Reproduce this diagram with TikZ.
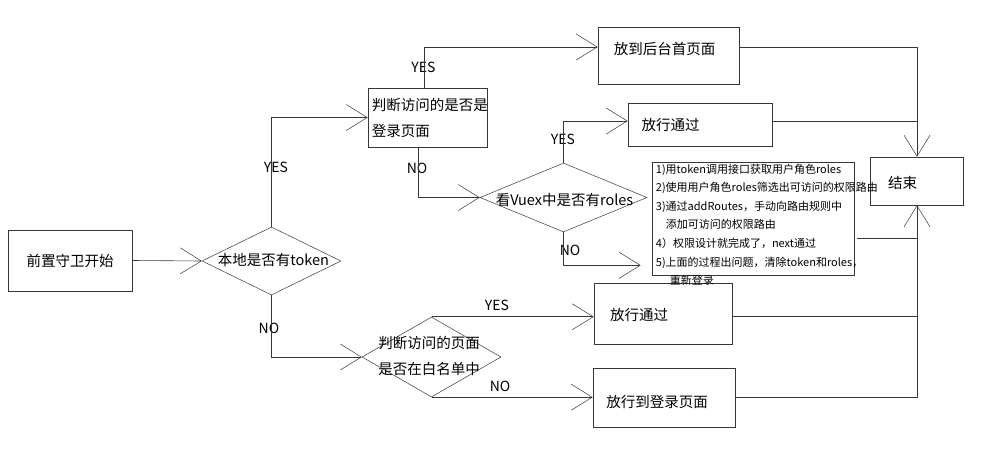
\documentclass[tikz,border=0pt]{standalone}
\usepackage{fontspec}
\setmainfont{Noto Sans CJK SC}
\usetikzlibrary{positioning,shapes.geometric,arrows.meta}
\definecolor{flowline}{RGB}{55,55,55}

\begin{document}
\begin{tikzpicture}[x=1pt, y=-1pt,
  box/.style={draw=flowline, line width=0.6pt, inner sep=0pt},
  decide/.style={diamond, draw=flowline, line width=0.5pt, inner sep=0pt},
  word/.style={font=\fontsize{14.5}{26}\selectfont, align=left, inner sep=0pt},
  note/.style={font=\fontsize{11}{18.6}\selectfont, align=left, inner sep=0pt},
  tag/.style={font=\fontsize{14}{16}\selectfont, inner sep=0pt},
  flow/.style={draw=flowline, line width=0.6pt},
  arr/.style={flow, -{Straight Barb[length=21pt, width=26pt, line width=0.5pt]}}
]
  \useasboundingbox (0,0) rectangle (992,468);

  % boxes
  \node[box, minimum width=124, minimum height=61, label={[word]center:前置守卫开始}] (start) at (70,260.5) {};
  \node[box, minimum width=119, minimum height=59, label={[word, anchor=west, xshift=4pt]west:判断访问的是否是\\登录页面}] (login) at (427.5,117.5) {};
  \node[box, minimum width=141, minimum height=57, label={[word, xshift=-4pt, yshift=6.5pt]center:放到后台首页面}] (home) at (668.5,55.5) {};
  \node[box, minimum width=144, minimum height=43, label={[word, xshift=-29.5pt]center:放行通过}] (pass1) at (700,124.5) {};
  \node[box, minimum width=202, minimum height=113] (info) at (753,218.5) {};
  \node[box, minimum width=93, minimum height=48, label={[word, xshift=-14.5pt, yshift=-2pt]center:结束}] (end) at (917,181) {};
  \node[box, minimum width=138, minimum height=61, label={[word, xshift=-24pt, yshift=-1.5pt]center:放行通过}] (pass2) at (663,313.5) {};
  \node[box, minimum width=142, minimum height=59, label={[word, xshift=-7pt, yshift=-4.5pt]center:放行到登录页面}] (tologin) at (664,397.5) {};

  % decisions
  \node[decide, minimum width=139, minimum height=68, label={[word, xshift=2pt, yshift=1pt]center:本地是否有token}] (tok) at (271.5,261) {};
  \node[decide, minimum width=167, minimum height=69, label={[word, xshift=1pt, yshift=-3pt]center:看Vuex中是否有roles}] (vuex) at (563.5,197.5) {};
  \node[decide, minimum width=139, minimum height=80, label={[word, xshift=-2.5pt, yshift=1.5pt]center:判断访问的页面\\是否在白名单中}] (white) at (431.5,357) {};

  \node[note, anchor=north west] (infotext) at ([xshift=4pt, yshift=-2pt]info.north west)
    {1)用token调用接口获取用户角色roles\\
     2)使用用户角色roles筛选出可访问的权限路由\\
     3)通过addRoutes，手动向路由规则中\\
     \hspace*{10pt}添加可访问的权限路由\\
     4）权限设计就完成了，next通过\\
     5)上面的过程出问题，清除token和roles，\\
     \hspace*{14pt}重新登录};

  % labels
  \node[tag] (yes1) at (276,167) {YES};
  \node[tag] (yes2) at (423.5,67) {YES};
  \node[tag] (no1) at (417,168) {NO};
  \node[tag] (yes3) at (563,139) {YES};
  \node[tag] (no2) at (570,250) {NO};
  \node[tag] (no3) at (269,328) {NO};
  \node[tag] (yes4) at (497,305) {YES};
  \node[tag] (no4) at (500,386) {NO};

  % connectors
  \draw[arr] (start.east) -- (tok.west);
  \draw[arr] (tok.north) |- (login.west);
  \draw[arr] ([xshift=-3.5pt]login.north) |- ([yshift=8.5pt]home.west);
  \draw[arr] ([xshift=-9.5pt]login.south) |- (vuex.west);
  \draw[arr] (vuex.north) |- ([yshift=3.5pt]pass1.west);
  \draw[arr] (vuex.south) |- ([xshift=-11pt, yshift=10pt]info.south west);
  \draw[arr] (tok.south) |- (white.west);
  \draw[arr] (white.north) -- (white.north -| pass2.west);
  \draw[arr] (white.south) -- (white.south -| tologin.west);

  \draw[arr] ([yshift=8.5pt]home.east) -| (end.north);
  \draw[arr] (tologin.east) -| (end.south);
  \draw[flow] ([yshift=3.5pt]pass1.east) -- ([yshift=3.5pt]pass1.east -| end.north);
  \draw[flow] ([xshift=3pt, yshift=-19.5pt]info.east) -- ([yshift=-19.5pt]info.east -| end.south);
  \draw[flow] ([yshift=-2.5pt]pass2.east) -- ([yshift=-2.5pt]pass2.east -| end.south);
\end{tikzpicture}
\end{document}
